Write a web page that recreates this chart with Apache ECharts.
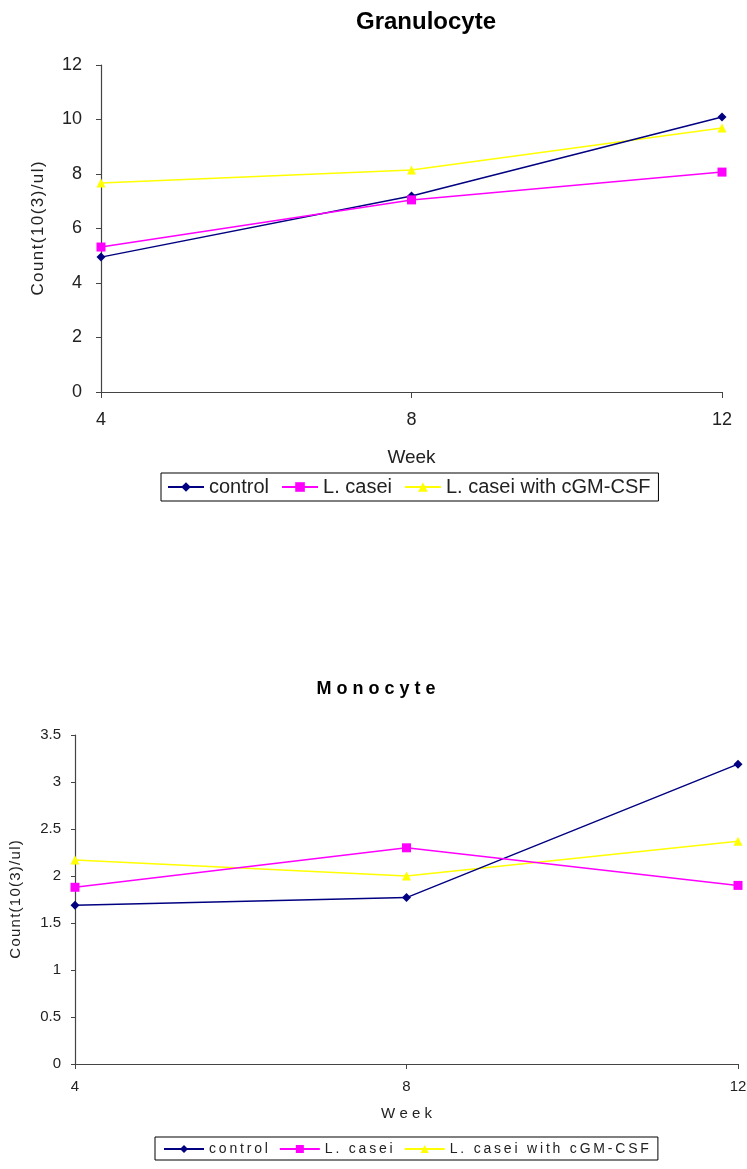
<!DOCTYPE html>
<html>
<head>
<meta charset="utf-8">
<script src="https://cdn.jsdelivr.net/npm/echarts@6/dist/echarts.min.js"></script>
<style>html,body{margin:0;padding:0;background:#fff}#c{width:747px;height:1169px}</style>
</head>
<body>
<div id="c"></div>
<script>
const weeks = [4, 8, 12];
const seriesNames = ['control', 'L. casei', 'L. casei with cGM-CSF'];
const granControl = [4.95, 7.19, 10.09];
const granCasei = [5.32, 7.05, 8.07];
const granCsf = [7.67, 8.15, 9.69];
const monoControl = [1.69, 1.77, 3.19];
const monoCasei = [1.88, 2.30, 1.90];
const monoCsf = [2.17, 2.00, 2.37];
const granTicks = [0, 12, 2];
const monoTicks = [0, 3.5, 0.5];

const colors = ['#000080', '#FF00FF', '#FFFF00'];
const symbols = ['diamond', 'rect', 'triangle'];
const FONT = 'Liberation Sans';
const spaced = (s, sp) => s.split('').join(sp);

function pts(vals) { return weeks.map((w, i) => [w, vals[i]]); }

function mkSeries(vals, idx, gi, symSize) {
  return {
    name: seriesNames[idx], type: 'line', xAxisIndex: gi, yAxisIndex: gi,
    data: pts(vals), symbol: symbols[idx], symbolSize: symbols[idx] === 'diamond' ? symSize : symSize - 1,
    color: colors[idx],
    lineStyle: { color: colors[idx], width: 1.5 },
    itemStyle: { color: colors[idx] },
    animation: false, z: idx === 2 ? 2 : 3
  };
}

const axisLine = { show: true, lineStyle: { color: '#444', width: 1.2 } };

const option = {
  animation: false,
  textStyle: { fontFamily: FONT },
  title: [
    { text: 'Granulocyte', left: 421, top: 5, textAlign: 'center',
      textStyle: { fontFamily: FONT, fontSize: 24, fontWeight: 'bold', color: '#000' } },
    { text: 'M o n o c y t e', left: 371, top: 675, textAlign: 'center',
      textStyle: { fontFamily: FONT, fontSize: 18, fontWeight: 'bold', color: '#000' } }
  ],
  grid: [
    { left: 101, right: 25, top: 65, height: 327, outerBoundsMode: 'none', containLabel: false },
    { left: 75, right: 9, top: 735, height: 329, outerBoundsMode: 'none', containLabel: false }
  ],
  xAxis: [
    { type: 'value', gridIndex: 0, min: weeks[0], max: weeks[2], interval: 4,
      name: 'Week', nameLocation: 'middle', nameGap: 56,
      nameTextStyle: { fontFamily: FONT, fontSize: 19, color: '#222' },
      axisLine: axisLine, axisTick: { show: true, length: 6, lineStyle: { color: '#444' } },
      axisLabel: { fontFamily: FONT, fontSize: 18, color: '#222', margin: 19 },
      splitLine: { show: false } },
    { type: 'value', gridIndex: 1, min: weeks[0], max: weeks[2], interval: 4,
      name: 'W e e k', nameLocation: 'middle', nameGap: 42,
      nameTextStyle: { fontFamily: FONT, fontSize: 15, color: '#222' },
      axisLine: axisLine, axisTick: { show: true, length: 5, lineStyle: { color: '#444' } },
      axisLabel: { fontFamily: FONT, fontSize: 15, color: '#222', margin: 15 },
      splitLine: { show: false } }
  ],
  yAxis: [
    { type: 'value', gridIndex: 0, min: granTicks[0], max: granTicks[1], interval: granTicks[2],
      name: spaced('Count(10(3)/ul)', '\u200a'), nameLocation: 'middle', nameGap: 54, nameRotate: 90,
      nameTextStyle: { fontFamily: FONT, fontSize: 17, color: '#222' },
      axisLine: axisLine, axisTick: { show: true, length: 5, lineStyle: { color: '#444' } },
      axisLabel: { fontFamily: FONT, fontSize: 18, color: '#222', margin: 19 },
      splitLine: { show: false } },
    { type: 'value', gridIndex: 1, min: monoTicks[0], max: monoTicks[1], interval: monoTicks[2],
      name: spaced('Count(10(3)/ul)', '\u200a'), nameLocation: 'middle', nameGap: 52, nameRotate: 90,
      nameTextStyle: { fontFamily: FONT, fontSize: 15, color: '#222' },
      axisLine: axisLine, axisTick: { show: true, length: 4, lineStyle: { color: '#444' } },
      axisLabel: { fontFamily: FONT, fontSize: 15, color: '#222', margin: 14 },
      splitLine: { show: false } }
  ],
  legend: [
    { left: 161, top: 473, orient: 'horizontal',
      borderColor: '#000', borderWidth: 1, padding: [4, 8, 4, 6], itemGap: 12,
      itemWidth: 36, itemHeight: 12, data: seriesNames,
      textStyle: { fontFamily: FONT, fontSize: 20, color: '#222' } },
    { left: 155, top: 1137, orient: 'horizontal',
      borderColor: '#000', borderWidth: 1, padding: [5, 9, 4, 8], itemGap: 11,
      itemWidth: 40, itemHeight: 10, data: seriesNames,
      formatter: n => spaced(n, '\u2009'),
      textStyle: { fontFamily: FONT, fontSize: 14, color: '#222' } }
  ],
  series: [
    mkSeries(granControl, 0, 0, 9), mkSeries(granCasei, 1, 0, 10), mkSeries(granCsf, 2, 0, 10),
    mkSeries(monoControl, 0, 1, 9), mkSeries(monoCasei, 1, 1, 10), mkSeries(monoCsf, 2, 1, 10)
  ]
};
const chart = echarts.init(document.getElementById('c'), null, { renderer: 'canvas' });
chart.setOption(option);
</script>
</body>
</html>
